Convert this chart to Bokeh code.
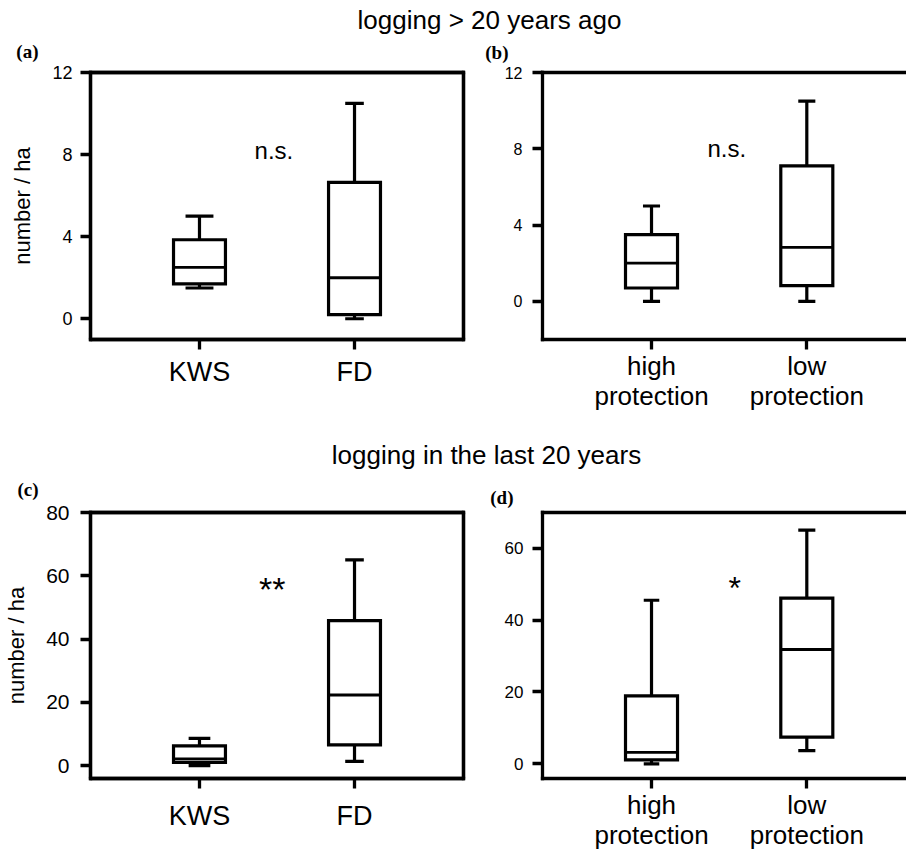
from bokeh.plotting import figure
from bokeh.layouts import column, row
from bokeh.models import Range1d, FixedTicker, LinearAxis, Label
from bokeh.embed import file_html
from bokeh.resources import INLINE

# ---------------- data ----------------
title_top = "logging > 20 years ago"
title_bottom = "logging in the last 20 years"
letters = ["(a)", "(b)", "(c)", "(d)"]

a_cats = ["KWS", "FD"]
a_min = [1.5, 0.0]
a_q1 = [1.7, 0.2]
a_med = [2.5, 2.0]
a_q3 = [3.85, 6.65]
a_max = [5.0, 10.5]
a_ticks = [0, 4, 8, 12]
a_sig = "n.s."

b_cats = ["high\nprotection", "low\nprotection"]
b_min = [0.0, 0.0]
b_q1 = [0.7, 0.82]
b_med = [2.0, 2.83]
b_q3 = [3.5, 7.1]
b_max = [5.0, 10.5]
b_ticks = [0, 4, 8, 12]
b_sig = "n.s."

c_cats = ["KWS", "FD"]
c_min = [0.0, 1.3]
c_q1 = [1.0, 6.5]
c_med = [2.1, 22.3]
c_q3 = [6.2, 45.8]
c_max = [8.6, 65.0]
c_ticks = [0, 20, 40, 60, 80]
c_sig = "**"

d_cats = ["high\nprotection", "low\nprotection"]
d_min = [0.0, 3.7]
d_q1 = [1.1, 7.4]
d_med = [3.2, 31.8]
d_q3 = [18.9, 46.1]
d_max = [45.5, 65.0]
d_ticks = [0, 20, 40, 60]
d_sig = "*"

y_label = "number / ha"

# ---------------- style ----------------
SANS = "Liberation Sans"
SERIF = "Liberation Serif"
BOX_W = 0.335
LW = 3.3
BLW = 3.2


def title_fig(text, w, h, cx, mid):
    p = figure(width=w, height=h, output_backend="svg", toolbar_location=None,
               x_axis_type=None, y_axis_type=None, min_border=0,
               x_range=Range1d(0, 1), y_range=Range1d(0, 1))
    p.outline_line_color = None
    p.add_layout(Label(x=cx, y=mid, x_units="screen", y_units="screen", text=text,
                       text_align="center", text_baseline="middle",
                       text_font=SANS, text_font_size="26px", text_color="black"))
    return p


def letter_fig(text, w, h, top, standoff):
    # panel letter drawn as a horizontal label of an otherwise empty left axis
    p = figure(width=w, height=h, output_backend="svg", toolbar_location=None,
               x_axis_type=None, y_axis_type=None, min_border=0,
               min_border_top=top, x_range=Range1d(0, 1), y_range=Range1d(0, 1))
    p.outline_line_color = None
    p.xgrid.visible = False
    p.ygrid.visible = False
    ax = LinearAxis(ticker=FixedTicker(ticks=[]), axis_line_color=None,
                    major_tick_line_color=None, minor_tick_line_color=None,
                    major_tick_out=0, major_tick_in=0, major_label_standoff=0,
                    major_label_text_font_size="0px",
                    axis_label=text, axis_label_orientation="horizontal",
                    axis_label_standoff=standoff, axis_label_text_font=SERIF,
                    axis_label_text_font_style="bold",
                    axis_label_text_font_size="19px",
                    axis_label_text_color="black")
    p.add_layout(ax, "left")
    return p


def panel(cats, mn, q1, med, q3, mx, yticks, sig, *, w, h, xr, yr, bl, br, bt, bb,
          boxed, ylab, ytick_fs, xlab_fs, lh, x_stand, y_stand,
          sig_pos, sig_fs, caps):
    p = figure(width=w, height=h, output_backend="svg", toolbar_location=None,
               x_range=Range1d(*xr), y_range=Range1d(*yr),
               min_border_left=bl, min_border_right=br,
               min_border_top=bt, min_border_bottom=bb)
    p.xgrid.visible = False
    p.ygrid.visible = False
    p.background_fill_color = "white"
    p.border_fill_color = "white"
    if boxed:
        p.outline_line_color = "black"
        p.outline_line_width = LW
        p.outline_line_alpha = 1.0
    else:
        p.outline_line_color = None

    xs = [i + 1 for i in range(len(cats))]

    xa = p.xaxis[0]
    xa.ticker = FixedTicker(ticks=xs)
    xa.major_label_overrides = {x: c for x, c in zip(xs, cats)}
    ya = p.yaxis[0]
    ya.ticker = FixedTicker(ticks=yticks)
    for ax in (xa, ya):
        ax.axis_line_width = LW
        ax.axis_line_color = "black"
        ax.axis_line_cap = "square"
        ax.major_tick_line_width = LW
        ax.major_tick_line_color = "black"
        ax.major_tick_out = 10
        ax.major_tick_in = 0
        ax.minor_tick_line_color = None
        ax.major_label_text_font = SANS
        ax.major_label_text_color = "black"
    xa.major_label_text_font_size = xlab_fs
    xa.major_label_text_line_height = lh
    xa.major_label_standoff = x_stand
    ya.major_label_text_font_size = ytick_fs
    ya.major_label_standoff = y_stand
    if ylab:
        ya.axis_label = ylab
        ya.axis_label_text_font = SANS
        ya.axis_label_text_font_size = "22px"
        ya.axis_label_text_font_style = "normal"
        ya.axis_label_text_color = "black"
        ya.axis_label_standoff = 14

    # top (and right) frame lines as tickless axes
    sides = ["above"] + (["right"] if boxed else [])
    for side in sides:
        ax = LinearAxis(ticker=FixedTicker(ticks=[]), axis_line_width=LW,
                        axis_line_color="black", axis_line_cap="square",
                        major_tick_line_color=None, minor_tick_line_color=None,
                        major_tick_out=0, major_label_standoff=0,
                        major_label_text_font_size="0px")
        p.add_layout(ax, side)

    # whiskers
    p.segment(x0=xs, y0=q3, x1=xs, y1=mx, line_color="black", line_width=BLW)
    p.segment(x0=xs, y0=mn, x1=xs, y1=q1, line_color="black", line_width=BLW)
    # caps
    cx0 = [x - c / 2 for x, c in zip(xs, caps)]
    cx1 = [x + c / 2 for x, c in zip(xs, caps)]
    p.segment(x0=cx0, y0=mx, x1=cx1, y1=mx, line_color="black", line_width=BLW)
    p.segment(x0=cx0, y0=mn, x1=cx1, y1=mn, line_color="black", line_width=BLW)
    # boxes
    p.vbar(x=xs, bottom=q1, top=q3, width=BOX_W, fill_color="white",
           line_color="black", line_width=BLW, line_join="miter")
    # medians
    p.segment(x0=[x - BOX_W / 2 for x in xs], y0=med,
              x1=[x + BOX_W / 2 for x in xs], y1=med,
              line_color="black", line_width=2.8)

    # significance
    p.add_layout(Label(x=sig_pos[0], y=sig_pos[1], text=sig, text_align="center",
                       text_baseline="middle", text_font=SANS,
                       text_font_size=sig_fs, text_color="black"))
    return p


pa = panel(a_cats, a_min, a_q1, a_med, a_q3, a_max, a_ticks, a_sig,
           w=470, h=368, xr=(0.297, 2.703), yr=(-1.01, 12.0),
           bl=90, br=7, bt=10, bb=91, boxed=True, ylab=y_label,
           ytick_fs="18px", xlab_fs="27px", lh=1.0, x_stand=7, y_stand=8,
           sig_pos=(1.48, 8.2), sig_fs="24px", caps=[0.18, 0.12])

pb = panel(b_cats, b_min, b_q1, b_med, b_q3, b_max, b_ticks, b_sig,
           w=436, h=367, xr=(0.298, 2.642), yr=(-2.0, 12.0),
           bl=72, br=0, bt=9, bb=91, boxed=False, ylab=None,
           ytick_fs="16px", xlab_fs="26px", lh=1.0, x_stand=1, y_stand=10,
           sig_pos=(1.485, 8.0), sig_fs="24px", caps=[0.11, 0.11])

pc = panel(c_cats, c_min, c_q1, c_med, c_q3, c_max, c_ticks, c_sig,
           w=470, h=352, xr=(0.297, 2.703), yr=(-4.1, 80.0),
           bl=90, br=7, bt=12, bb=74, boxed=True, ylab=y_label,
           ytick_fs="21px", xlab_fs="27px", lh=1.0, x_stand=12, y_stand=11,
           sig_pos=(1.47, 55.9), sig_fs="34px", caps=[0.14, 0.12])

pd_ = panel(d_cats, d_min, d_q1, d_med, d_q3, d_max, d_ticks, d_sig,
            w=436, h=344, xr=(0.298, 2.642), yr=(-4.08, 69.9),
            bl=72, br=0, bt=4, bb=74, boxed=False, ylab=None,
            ytick_fs="17px", xlab_fs="26px", lh=1.0, x_stand=1, y_stand=9,
            sig_pos=(1.536, 48.8), sig_fs="32px", caps=[0.10, 0.11])

t1 = title_fig(title_top, 906, 40, 489, 20.7)
t2 = title_fig(title_bottom, 906, 48, 486, 23.7)
la = letter_fig(letters[0], 470, 22, 0, 52)
lb = letter_fig(letters[1], 436, 23, 0, 34)
lc = letter_fig(letters[2], 470, 22, 0, 52)
ld = letter_fig(letters[3], 436, 30, 8, 29)

layout = column(
    t1,
    row(column(la, pa), column(lb, pb)),
    t2,
    row(column(lc, pc), column(ld, pd_)),
)

with open("out.html", "w") as f:
    f.write(file_html(layout, INLINE))
